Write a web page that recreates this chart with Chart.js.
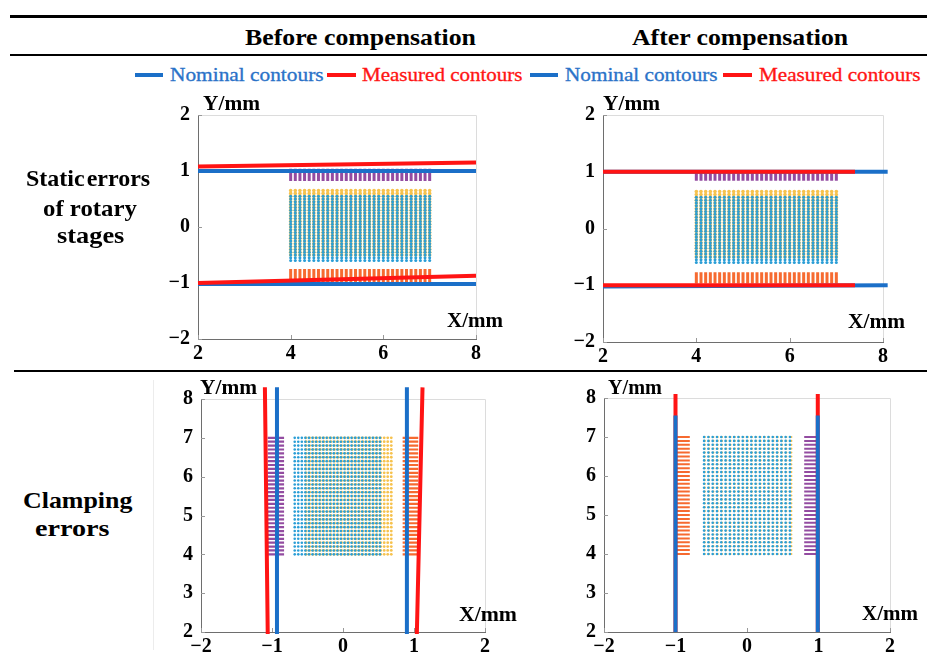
<!DOCTYPE html>
<html>
<head>
<meta charset="utf-8">
<script src="https://cdn.jsdelivr.net/npm/chart.js@4.4.0/dist/chart.umd.min.js"></script>
<style>
    body { margin: 0; width: 927px; height: 653px; background: #fff; position: relative; overflow: hidden; font-family: "Liberation Serif", serif; }
    .rule { position: absolute; background: #000; }
    .txt { position: absolute; white-space: nowrap; transform-origin: left center; line-height: 1; z-index: 2; }
    .mark { position: absolute; height: 4px; }
    canvas { position: absolute; z-index: 1; }
</style>
</head>
<body>
<canvas id="static-before"></canvas>
<canvas id="static-after"></canvas>
<canvas id="clamp-before"></canvas>
<canvas id="clamp-after"></canvas>
<script>
// --- DATA ---
const staticXTicks = [2, 4, 6, 8];
const staticYTicks = [-2, -1, 0, 1, 2];
const clampXTicks = [-2, -1, 0, 1, 2];
const clampYTicks = [2, 3, 4, 5, 6, 7, 8];

// contour segments as [x1, y1, x2, y2]
const beforeStaticNominal = [[2, 1.0, 8, 1.0], [2, -1.02, 8, -1.02]];
const beforeStaticMeasured = [[2, 1.08, 8, 1.15], [2, -1.0, 8, -0.87]];
const afterStaticNominal = [[2, 1.0, 8.1, 1.0], [2, -1.02, 8.1, -1.0]];
const afterStaticMeasured = [[2, 1.0, 7.4, 1.0], [2, -1.0, 7.4, -1.0]];
const beforeClampNominal = [[-0.93, 1.95, -0.93, 8.3], [0.9, 1.95, 0.9, 8.3]];
const beforeClampMeasured = [[-1.06, 1.95, -1.1, 8.3], [1.04, 1.95, 1.12, 8.3]];
const afterClampNominal = [[-1.0, 2, -1.0, 7.55], [0.99, 2, 0.99, 7.55]];
const afterClampMeasured = [[-1.0, 2, -1.0, 8.1], [0.99, 2, 0.99, 8.1]];

// sampled point grids
const staticCols = [4.0, 4.1, 4.2, 4.3, 4.4, 4.5, 4.6, 4.7, 4.8, 4.9, 5.0, 5.1, 5.2, 5.3, 5.4, 5.5, 5.6, 5.7, 5.8, 5.9, 6.0, 6.1, 6.2, 6.3, 6.4, 6.5, 6.6, 6.7, 6.8, 6.9, 7.0];
const staticCyanRows = [-0.6, -0.55, -0.5, -0.45, -0.4, -0.35, -0.3, -0.25, -0.2, -0.15, -0.1, -0.05, 0, 0.05, 0.1, 0.15, 0.2, 0.25, 0.3, 0.35, 0.4, 0.45, 0.5, 0.55];
const staticYellowRows = [-0.5, -0.45, -0.4, -0.35, -0.3, -0.25, -0.2, -0.15, -0.1, -0.05, 0, 0.05, 0.1, 0.15, 0.2, 0.25, 0.3, 0.35, 0.4, 0.45, 0.5, 0.55, 0.6, 0.65];
const beforeStaticPurple = [0.82, 1.04];
const beforeStaticOrange = [-1.0, -0.75];
const afterStaticPurple = [0.84, 0.99];
const afterStaticOrange = [-0.97, -0.77];

const clampRows = [4.0, 4.1, 4.2, 4.3, 4.4, 4.5, 4.6, 4.7, 4.8, 4.9, 5.0, 5.1, 5.2, 5.3, 5.4, 5.5, 5.6, 5.7, 5.8, 5.9, 6.0, 6.1, 6.2, 6.3, 6.4, 6.5, 6.6, 6.7, 6.8, 6.9, 7.0];
const beforeClampCyanCols = [-0.68, -0.63, -0.58, -0.53, -0.48, -0.43, -0.38, -0.33, -0.28, -0.23, -0.18, -0.13, -0.08, -0.03, 0.02, 0.07, 0.12, 0.17, 0.22, 0.27, 0.32, 0.37, 0.42, 0.47, 0.52];
const beforeClampYellowCols = [-0.52, -0.47, -0.42, -0.37, -0.32, -0.27, -0.22, -0.17, -0.12, -0.07, -0.02, 0.03, 0.08, 0.13, 0.18, 0.23, 0.28, 0.33, 0.38, 0.43, 0.48, 0.53, 0.58, 0.63, 0.68];
const beforeClampPurple = [-1.06, -0.83];
const beforeClampOrange = [0.84, 1.06];
const afterClampCyanCols = [-0.6, -0.54, -0.48, -0.42, -0.36, -0.3, -0.24, -0.18, -0.12, -0.06, 0, 0.06, 0.12, 0.18, 0.24, 0.3, 0.36, 0.42, 0.48, 0.54, 0.6];
const afterClampYellowCols = [-0.59, -0.53, -0.47, -0.41, -0.35, -0.29, -0.23, -0.17, -0.11, -0.05, 0.01, 0.07, 0.13, 0.19, 0.25, 0.31, 0.37, 0.43, 0.49, 0.55, 0.62];
const afterClampOrange = [-1.0, -0.8];
const afterClampPurple = [0.8, 1.0];

// --- COLOURS ---
const BLUE = '#1b6fc8';
const RED = '#ff1414';
const PURPLE = 'rgba(128, 45, 145, 0.85)';
const ORANGE = 'rgba(245, 90, 25, 0.9)';
const YELLOW = '#f6c24e';
const CYAN = '#2b9ed6';

// --- HELPERS ---
function segs(list) {
    const pts = [];
    list.forEach(([x1, y1, x2, y2]) => pts.push({ x: x1, y: y1 }, { x: x2, y: y2 }, { x: x2, y: null }));
    return pts;
}
const columnDashes = (cols, [lo, hi]) => segs(cols.map(x => [x, lo, x, hi]));
const rowDashes = (rows, [lo, hi]) => segs(rows.map(y => [lo, y, hi, y]));
function grid(cols, rows) {
    const pts = [];
    cols.forEach(x => rows.forEach(y => pts.push({ x, y })));
    return pts;
}
const line = (data, color, width) => ({ data, showLine: true, borderColor: color, borderWidth: width, pointRadius: 0, clip: false, spanGaps: false });
const dots = (data, color, r) => ({ data, showLine: false, pointRadius: r, pointBackgroundColor: color, pointBorderWidth: 0 });
const fmt = v => String(v).replace('-', '\u2212');

const framePlugin = {
    id: 'frame',
    beforeDatasetsDraw(chart) {
        const { ctx, chartArea: a, scales } = chart;
        ctx.save();
        ctx.lineWidth = 1;
        ctx.strokeStyle = '#dcdcdc';
        ctx.beginPath();
        ctx.moveTo(a.left, a.top + 0.5);
        ctx.lineTo(a.right + 0.5, a.top + 0.5);
        ctx.lineTo(a.right + 0.5, a.bottom);
        ctx.stroke();
        // inward tick marks
        ctx.strokeStyle = '#999';
        ctx.beginPath();
        scales.x.ticks.forEach(t => {
            const px = Math.round(scales.x.getPixelForValue(t.value)) + 0.5;
            ctx.moveTo(px, a.bottom); ctx.lineTo(px, a.bottom - 4);
        });
        scales.y.ticks.forEach(t => {
            const py = Math.round(scales.y.getPixelForValue(t.value)) + 0.5;
            ctx.moveTo(a.left, py); ctx.lineTo(a.left + 4, py);
        });
        ctx.stroke();
        ctx.restore();
    }
};

function makeChart(id, box, xr, yr, xTicks, yTicks, datasets) {
    const PAD_L = 60, PAD_T = 22, PAD_R = 25, PAD_B = 30;
    const canvas = document.getElementById(id);
    canvas.width = box.R - box.L + PAD_L + PAD_R;
    canvas.height = box.B - box.T + PAD_T + PAD_B;
    canvas.style.left = (box.L - PAD_L) + 'px';
    canvas.style.top = (box.T - PAD_T) + 'px';
    const tickFont = { family: '"Liberation Serif", serif', size: 20, weight: 'bold' };
    return new Chart(canvas.getContext('2d'), {
        type: 'scatter',
        data: { datasets },
        plugins: [framePlugin],
        options: {
            responsive: false,
            animation: false,
            devicePixelRatio: 1,
            layout: { padding: { top: PAD_T, right: PAD_R, left: 0, bottom: 0 } },
            plugins: { legend: { display: false }, tooltip: { enabled: false } },
            scales: {
                x: {
                    type: 'linear', min: xr[0], max: xr[1],
                    afterBuildTicks: s => { s.ticks = xTicks.map(v => ({ value: v })); },
                    afterFit: s => { s.height = PAD_B; },
                    grid: { display: false, drawTicks: false },
                    border: { display: true, color: '#6e6e6e', width: 1 },
                    ticks: { font: tickFont, color: '#000', padding: 3, maxRotation: 0, autoSkip: false, callback: v => fmt(v) }
                },
                y: {
                    type: 'linear', min: yr[0], max: yr[1],
                    afterBuildTicks: s => { s.ticks = yTicks.map(v => ({ value: v })); },
                    afterFit: s => { s.width = PAD_L; },
                    grid: { display: false, drawTicks: false },
                    border: { display: true, color: '#6e6e6e', width: 1 },
                    ticks: { font: tickFont, color: '#000', padding: 8, autoSkip: false, callback: v => fmt(v) }
                }
            }
        }
    });
}

// --- PAGE TEXT & RULES ---
function rule(x, y, w, h, color) {
    const el = document.createElement('div');
    el.className = 'rule';
    Object.assign(el.style, { left: x + 'px', top: y + 'px', width: w + 'px', height: h + 'px' });
    if (color) el.style.background = color;
    document.body.appendChild(el);
}
function placeText(text, x, y, w, size, bold, color) {
    const el = document.createElement('div');
    el.className = 'txt';
    el.textContent = text;
    el.style.font = `${bold ? 'bold ' : ''}${size}px "Liberation Serif", serif`;
    el.style.color = color || '#000';
    document.body.appendChild(el);
    const h = el.offsetHeight;
    el.style.left = x + 'px';
    el.style.top = (y - h / 2) + 'px';
    el.style.transform = `scaleX(${w / el.offsetWidth})`;
    return el;
}
function legendMark(x, w, color) {
    const el = document.createElement('div');
    el.className = 'mark';
    Object.assign(el.style, { left: x + 'px', top: '73px', width: w + 'px', background: color });
    document.body.appendChild(el);
}

rule(10, 15, 917, 3);
rule(10, 54, 917, 1.5);
rule(14, 370, 913, 1.5);
rule(153, 380, 1, 270, '#ececec');

placeText('Before compensation', 245, 38, 231, 23, true);
placeText('After compensation', 632, 38, 216, 23, true);

legendMark(135, 28, BLUE);
placeText('Nominal contours', 170, 75, 153, 18, false, '#2a72c8').style.webkitTextStroke = '0.3px #2a72c8';
legendMark(327, 29, RED);
placeText('Measured contours', 362, 75, 160, 18, false, RED).style.webkitTextStroke = '0.3px ' + RED;
legendMark(530, 28, BLUE);
placeText('Nominal contours', 565, 75, 152, 18, false, '#2a72c8').style.webkitTextStroke = '0.3px #2a72c8';
legendMark(723, 29, RED);
placeText('Measured contours', 759, 75, 161, 18, false, RED).style.webkitTextStroke = '0.3px ' + RED;

placeText('Static errors', 26, 178, 128, 24, true).style.wordSpacing = '-4px';
placeText('of rotary', 43, 208, 94, 24, true);
placeText('stages', 57, 235, 67, 24, true);
placeText('Clamping', 23, 500, 109, 24, true);
placeText('errors', 35, 528, 75, 24, true);

placeText('Y/mm', 203, 103, 57, 21, true);
placeText('X/mm', 447, 320, 56, 21, true);
placeText('Y/mm', 603, 103, 57, 21, true);
placeText('X/mm', 848, 321, 57, 21, true);
placeText('Y/mm', 200, 387, 57, 21, true);
placeText('X/mm', 459, 614, 58, 21, true);
placeText('Y/mm', 608, 387, 54, 21, true);
placeText('X/mm', 862, 613, 56, 21, true);

// --- CHARTS ---
makeChart('static-before', { L: 198, R: 476, T: 115, B: 339 }, [2, 8], [-2, 2], staticXTicks, staticYTicks, [
    line(segs(beforeStaticMeasured), RED, 4),
    line(segs(beforeStaticNominal), BLUE, 4),
    line(columnDashes(staticCols, beforeStaticPurple), PURPLE, 3),
    line(columnDashes(staticCols, beforeStaticOrange), ORANGE, 3),
    dots(grid(staticCols, staticCyanRows), CYAN, 1.5),
    dots(grid(staticCols, staticYellowRows), YELLOW, 1.8)
]);

makeChart('static-after', { L: 603, R: 883, T: 115, B: 342 }, [2, 8], [-2, 2], staticXTicks, staticYTicks, [
    line(segs(afterStaticMeasured), RED, 4),
    line(segs(afterStaticNominal), BLUE, 4),
    line(columnDashes(staticCols, afterStaticPurple), PURPLE, 3),
    line(columnDashes(staticCols, afterStaticOrange), ORANGE, 3),
    dots(grid(staticCols, staticCyanRows), CYAN, 1.5),
    dots(grid(staticCols, staticYellowRows), YELLOW, 1.8)
]);

makeChart('clamp-before', { L: 201, R: 485, T: 399, B: 632 }, [-2, 2], [2, 8], clampXTicks, clampYTicks, [
    line(segs(beforeClampMeasured), RED, 4),
    line(segs(beforeClampNominal), BLUE, 4),
    line(rowDashes(clampRows, beforeClampPurple), PURPLE, 2.2),
    line(rowDashes(clampRows, beforeClampOrange), ORANGE, 2.2),
    dots(grid(beforeClampCyanCols, clampRows), CYAN, 1.3),
    dots(grid(beforeClampYellowCols, clampRows), YELLOW, 1.4)
]);

makeChart('clamp-after', { L: 604, R: 890, T: 398, B: 632 }, [-2, 2], [2, 8], clampXTicks, clampYTicks, [
    line(segs(afterClampNominal), BLUE, 4),
    line(segs(afterClampMeasured), RED, 4),
    line(rowDashes(clampRows, afterClampOrange), ORANGE, 2),
    line(rowDashes(clampRows, afterClampPurple), PURPLE, 2),
    dots(grid(afterClampCyanCols, clampRows), CYAN, 1.3),
    dots(grid(afterClampYellowCols, clampRows), YELLOW, 1.1)
]);
</script>
</body>
</html>
